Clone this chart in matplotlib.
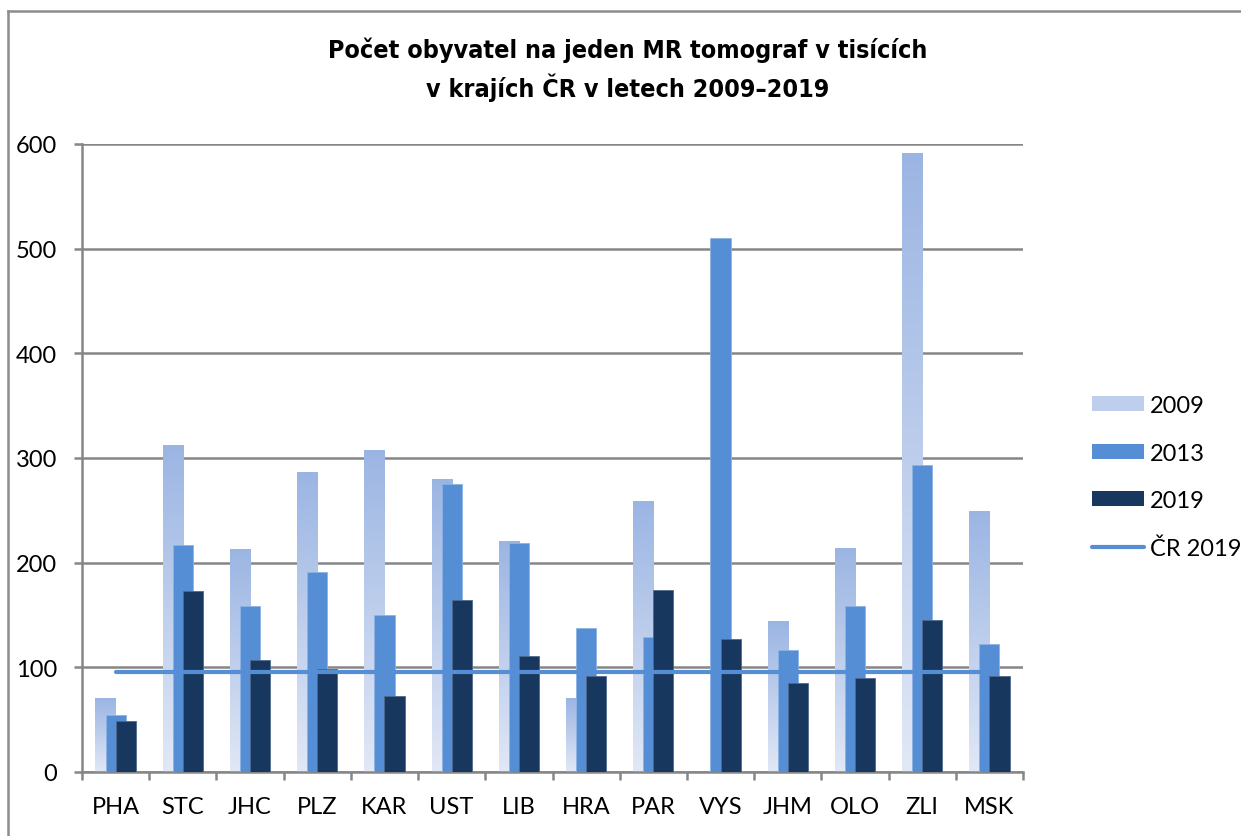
import matplotlib
matplotlib.use("Agg")
import matplotlib.pyplot as plt
from matplotlib.lines import Line2D
import matplotlib.patches as mpatches
import numpy as np

kraje = ['PHA', 'STC', 'JHC', 'PLZ', 'KAR', 'UST', 'LIB', 'HRA', 'PAR', 'VYS',
         'JHM', 'OLO', 'ZLI', 'MSK']
r2009 = [70, 312, 213, 286, 307, 279, 220, 70, 258, np.nan, 144, 214, 591, 249]
r2013 = [54, 217, 159, 191, 150, 275, 219, 138, 129, 510, 117, 159, 293, 122]
r2019 = [49, 173, 107, 98, 73, 164, 111, 92, 174, 127, 85, 90, 145, 92]
cr2019 = 96

c2009_top = np.array([155, 181, 227]) / 255
c2009_bot = np.array([225, 232, 246]) / 255
c2013 = '#558ED5'
c2019 = '#17375E'
grid_col = '#868686'
txt_font = ['Lato', 'DejaVu Sans']

fig = plt.figure(figsize=(12.41, 8.37), dpi=100)
ax = fig.add_axes([82 / 1241, 1 - 773 / 837, (1023 - 82) / 1241, (773 - 145) / 837])

x = np.arange(len(kraje))
w = 0.30
off = 0.15

# 2009 bars with vertical gradient (top darker)
b09 = ax.bar(x - off, r2009, w, color='none', zorder=2)
grad = np.linspace(0, 1, 256)[:, None, None]
img = c2009_top * (1 - grad) + c2009_bot * grad
img = np.repeat(img, 2, axis=1)
for r in b09:
    h = r.get_height()
    if np.isnan(h) or h <= 0:
        continue
    x0 = r.get_x()
    ax.imshow(img, extent=[x0, x0 + r.get_width(), 0, h], origin='upper',
              aspect='auto', zorder=2, interpolation='bilinear')

ax.bar(x, r2013, w, color=c2013, edgecolor='#8DB3E2', linewidth=0.6, zorder=3)
ax.bar(x + off, r2019, w, color=c2019, edgecolor='#4F6A8C', linewidth=0.6, zorder=4)
ax.plot([x[0], x[-1]], [cr2019, cr2019], color=c2013, lw=3, zorder=5,
        solid_capstyle='round')

ax.set_xlim(-0.5, len(kraje) - 0.5)
ax.set_ylim(0, 600)
ax.set_yticks(range(0, 601, 100))
ax.yaxis.grid(True, color=grid_col, lw=1.8)
ax.set_axisbelow(True)
for s in ['top', 'right']:
    ax.spines[s].set_visible(False)
for s in ['left', 'bottom']:
    ax.spines[s].set_color(grid_col)
    ax.spines[s].set_linewidth(1.8)

ax.set_xticks(np.arange(len(kraje) + 1) - 0.5, minor=False)
ax.set_xticklabels([])
ax.set_xticks(x, minor=True)
ax.set_xticklabels(kraje, minor=True)
ax.tick_params(axis='x', which='major', length=6, width=1.8, color=grid_col)
ax.tick_params(axis='x', which='minor', length=0, pad=17)
ax.tick_params(axis='y', length=6, width=1.8, color=grid_col, pad=12)
for lab in ax.get_xticklabels(minor=True) + ax.get_yticklabels():
    lab.set_fontfamily(txt_font)
    lab.set_fontsize(17)

fig.text(628 / 1241, 1 - 70 / 837,
         'Počet obyvatel na jeden MR tomograf v tisících\nv krajích ČR v letech 2009–2019',
         ha='center', va='center', fontsize=18, fontweight='bold',
         fontstretch='condensed',
         family=['Liberation Sans Narrow', 'DejaVu Sans'], linespacing=1.45)

handles = [
    mpatches.Patch(facecolor=(c2009_top + c2009_bot) / 2, edgecolor='none'),
    mpatches.Patch(facecolor=c2013, edgecolor='none'),
    mpatches.Patch(facecolor=c2019, edgecolor='none'),
    Line2D([0], [0], color=c2013, lw=3, solid_capstyle='round'),
]
fig.legend(handles, ['2009', '2013', '2019', 'ČR 2019'],
           loc='center left', bbox_to_anchor=(1080 / 1241, 1 - 478 / 837),
           frameon=False, borderpad=0, handlelength=2.2, handleheight=0.6,
           labelspacing=1.12, handletextpad=0.25,
           prop={'family': txt_font, 'size': 17})

# chart frame (top and left edge)
fig.add_artist(Line2D([8 / 1241, 8 / 1241], [0, 1 - 12 / 837],
                      color='#8C8C8C', lw=1.8, transform=fig.transFigure))
fig.add_artist(Line2D([8 / 1241, 1], [1 - 12 / 837, 1 - 12 / 837],
                      color='#8C8C8C', lw=1.8, transform=fig.transFigure))

fig.savefig('out.png', dpi=100)
